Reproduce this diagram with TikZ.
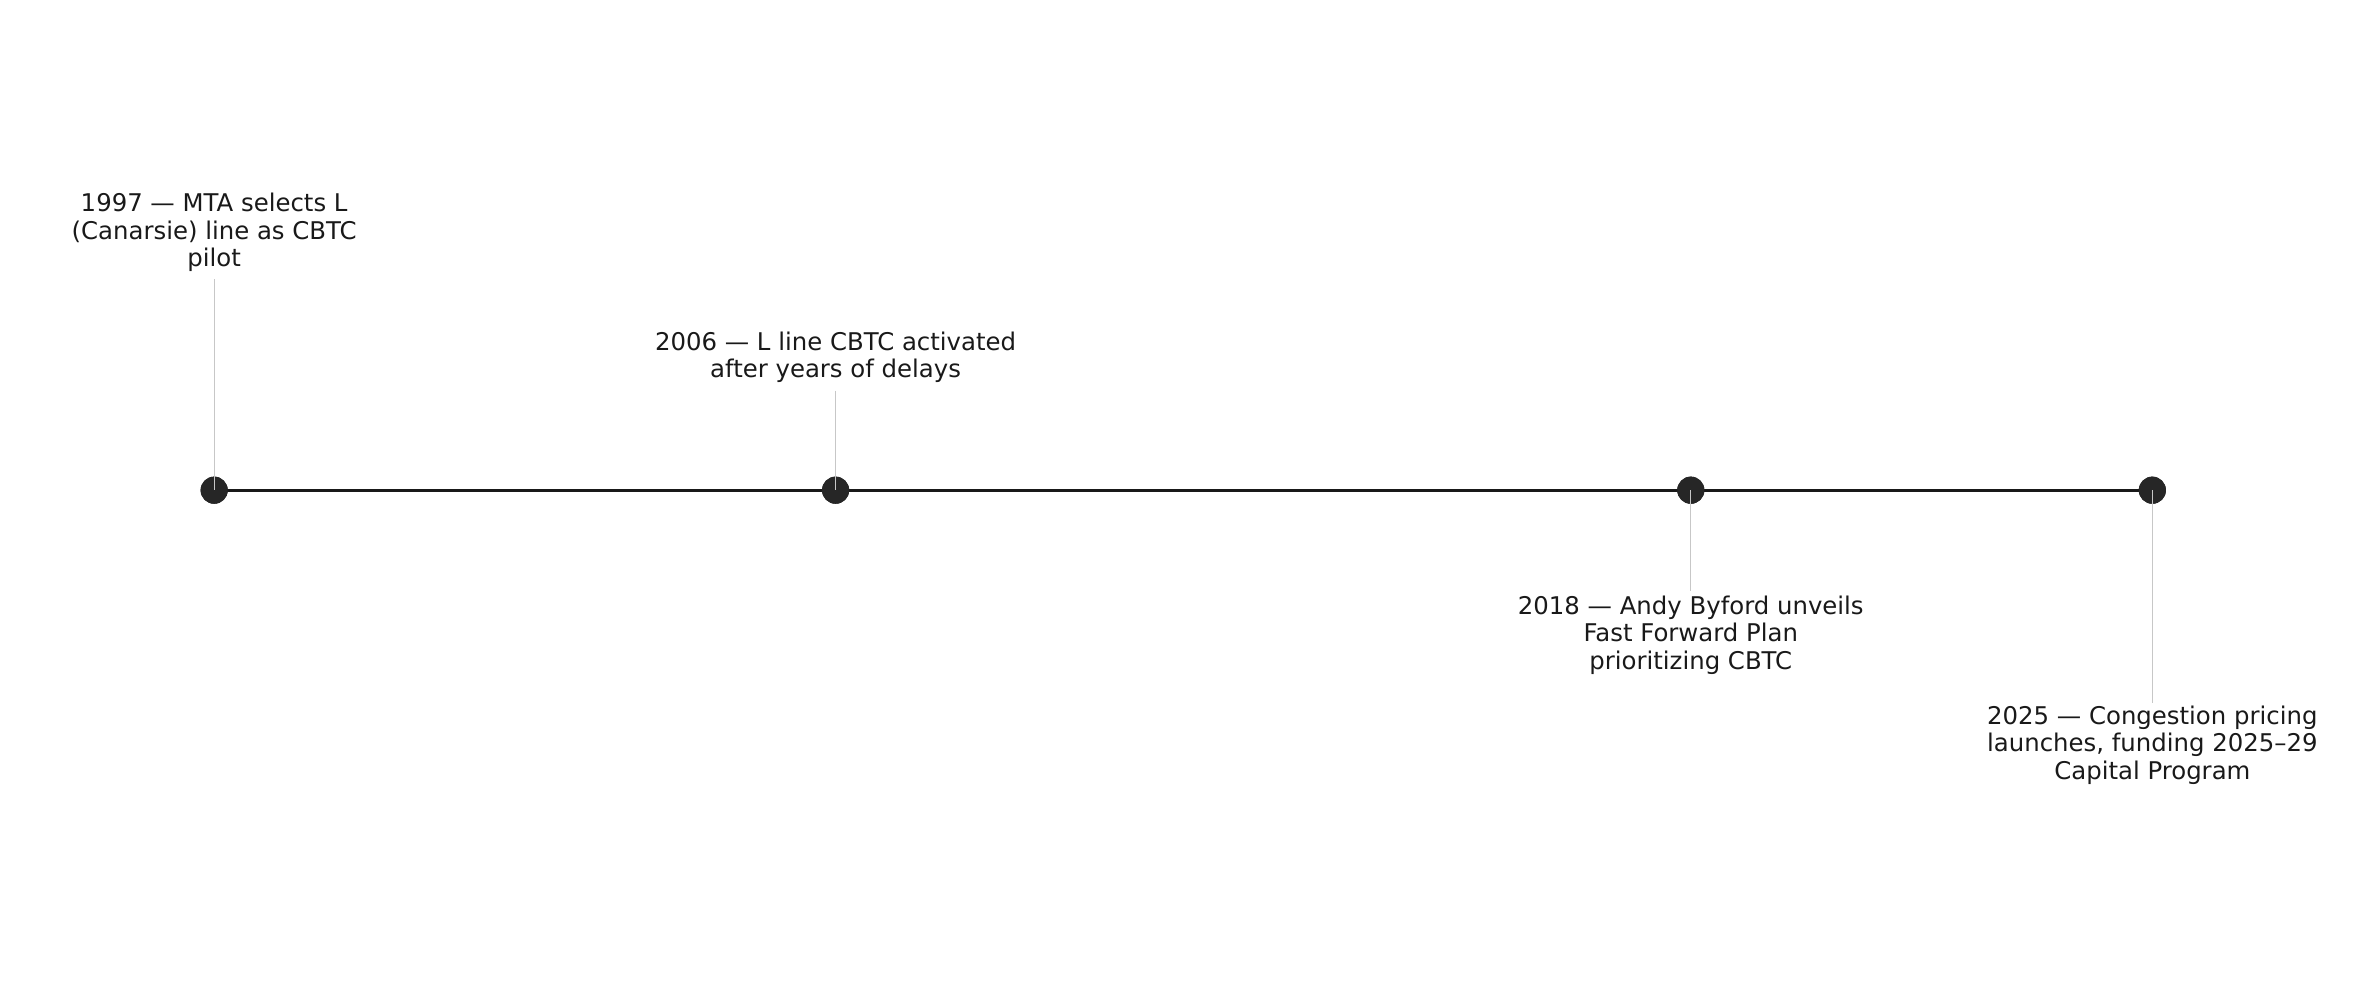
\documentclass[tikz,border=0pt]{standalone}
\usepackage{fontspec}
\setmainfont{DejaVu Sans}
\begin{document}
\begin{tikzpicture}[x=0.02cm,y=-0.02cm,
  dot/.style={circle,fill=black!85,inner sep=0pt,minimum size=0.36cm},
  lbl/.style={align=center,font=\fontsize{9.2}{10.3}\selectfont,text=black!90,inner sep=0pt},
  stem/.style={draw=black!22,line width=0.5pt}]
\useasboundingbox (0,0) rectangle (1568,650);
\node[dot] (d1) at (142,325) {};
\node[dot] (d2) at (554,325) {};
\node[dot] (d3) at (1121,325) {};
\node[dot] (d4) at (1427,325) {};
\draw[line width=1pt,black!90] (d1.center) -- (d2.center) -- (d3.center) -- (d4.center);
\node[dot] at (d1) {};\node[dot] at (d2) {};\node[dot] at (d3) {};\node[dot] at (d4) {};
\node[lbl] (t1) at (142,154) {1997 — MTA selects L\\(Canarsie) line as CBTC\\pilot};
\node[lbl] (t2) at (554,237) {2006 — L line CBTC activated\\after years of delays};
\node[lbl] (t3) at (1121,421) {2018 — Andy Byford unveils\\Fast Forward Plan\\prioritizing CBTC};
\node[lbl] (t4) at (1427,494) {2025 — Congestion pricing\\launches, funding 2025–29\\Capital Program};
\coordinate (c1) at (142,185);\coordinate (c2) at (554,259);
\coordinate (c3) at (1121,392);\coordinate (c4) at (1427,466);
\draw[stem] (c1) -- (d1.center);
\draw[stem] (c2) -- (d2.center);
\draw[stem] (d3.center) -- (c3);
\draw[stem] (d4.center) -- (c4);
\end{tikzpicture}
\end{document}
